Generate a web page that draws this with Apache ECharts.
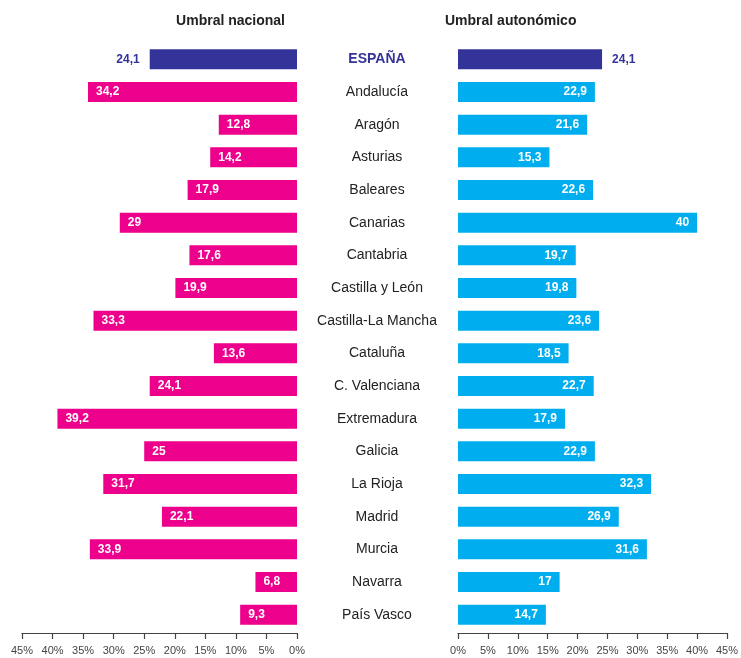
<!DOCTYPE html>
<html>
<head>
<meta charset="utf-8">
<script src="https://cdn.jsdelivr.net/npm/echarts@6/dist/echarts.min.js"></script>
<style>
  html, body { margin: 0; padding: 0; background: #fff; }
  #main { width: 741px; height: 658px; }
</style>
</head>
<body>
<div id="main"></div>
<script>
// regiones
const regiones = ['ESPAÑA', 'Andalucía', 'Aragón', 'Asturias', 'Baleares', 'Canarias', 'Cantabria',
  'Castilla y León', 'Castilla-La Mancha', 'Cataluña', 'C. Valenciana', 'Extremadura', 'Galicia',
  'La Rioja', 'Madrid', 'Murcia', 'Navarra', 'País Vasco'];
// umbral nacional (%)
const nacional = [24.1, 34.2, 12.8, 14.2, 17.9, 29, 17.6, 19.9, 33.3, 13.6, 24.1, 39.2, 25, 31.7, 22.1, 33.9, 6.8, 9.3];
// umbral autonómico (%)
const autonomico = [24.1, 22.9, 21.6, 15.3, 22.6, 40, 19.7, 19.8, 23.6, 18.5, 22.7, 17.9, 22.9, 32.3, 26.9, 31.6, 17, 14.7];

const FONT = "'Liberation Sans', Arial, sans-serif";
const MAGENTA = '#EC008C', CYAN = '#00AEEF', AZUL = '#333399';

const fmt = v => String(v).replace('.', ',');

function barData(vals, color, side) {
  return vals.map((v, i) => {
    if (i === 0) {
      return {
        value: v,
        itemStyle: { color: AZUL },
        label: { position: side, distance: 10, color: AZUL }
      };
    }
    return { value: v, itemStyle: { color: color } };
  });
}

const chart = echarts.init(document.getElementById('main'));
const xAxisBase = {
  type: 'value', min: 0, max: 45, interval: 5, position: 'bottom', offset: 2,
  splitLine: { show: false },
  axisLine: { show: true, lineStyle: { color: '#444', width: 1.2 } },
  axisTick: { show: true, length: 6, lineStyle: { color: '#444', width: 1.2 } },
  axisLabel: { formatter: '{value}%', color: '#444', fontSize: 11, fontFamily: FONT, margin: 12 }
};

chart.setOption({
  animation: false,
  textStyle: { fontFamily: FONT },
  title: [
    { text: 'Umbral nacional', right: 451, top: 9,
      textStyle: { fontSize: 14, fontWeight: 'bold', color: '#222', fontFamily: FONT } },
    { text: 'Umbral autonómico', left: 440, top: 9,
      textStyle: { fontSize: 14, fontWeight: 'bold', color: '#222', fontFamily: FONT } }
  ],
  grid: [
    { left: 22, width: 275, top: 43, height: 588 },
    { left: 458, width: 273, top: 43, height: 588 }
  ],
  xAxis: [
    Object.assign({ gridIndex: 0, inverse: true }, xAxisBase),
    Object.assign({ gridIndex: 1 }, xAxisBase)
  ],
  yAxis: [
    {
      gridIndex: 0, type: 'category', data: regiones, inverse: true, position: 'right',
      axisLine: { show: false }, axisTick: { show: false },
      axisLabel: {
        margin: 80, align: 'center', color: '#222', fontSize: 14, fontFamily: FONT,
        formatter: v => v === 'ESPAÑA' ? '{e|' + v + '}' : v,
        rich: { e: { color: AZUL, fontWeight: 'bold', fontSize: 14, fontFamily: FONT } }
      }
    },
    {
      gridIndex: 1, type: 'category', data: regiones, inverse: true,
      axisLine: { show: false }, axisTick: { show: false }, axisLabel: { show: false }
    }
  ],
  series: [
    {
      name: 'Umbral nacional', type: 'bar', xAxisIndex: 0, yAxisIndex: 0,
      barWidth: 20, data: barData(nacional, MAGENTA, 'left'),
      label: {
        show: true, position: 'insideLeft', distance: 8, color: '#fff',
        fontWeight: 'bold', fontSize: 12, fontFamily: FONT, formatter: p => fmt(p.value)
      }
    },
    {
      name: 'Umbral autonómico', type: 'bar', xAxisIndex: 1, yAxisIndex: 1,
      barWidth: 20, data: barData(autonomico, CYAN, 'right'),
      label: {
        show: true, position: 'insideRight', distance: 8, color: '#fff',
        fontWeight: 'bold', fontSize: 12, fontFamily: FONT, formatter: p => fmt(p.value)
      }
    }
  ]
});
</script>
</body>
</html>
